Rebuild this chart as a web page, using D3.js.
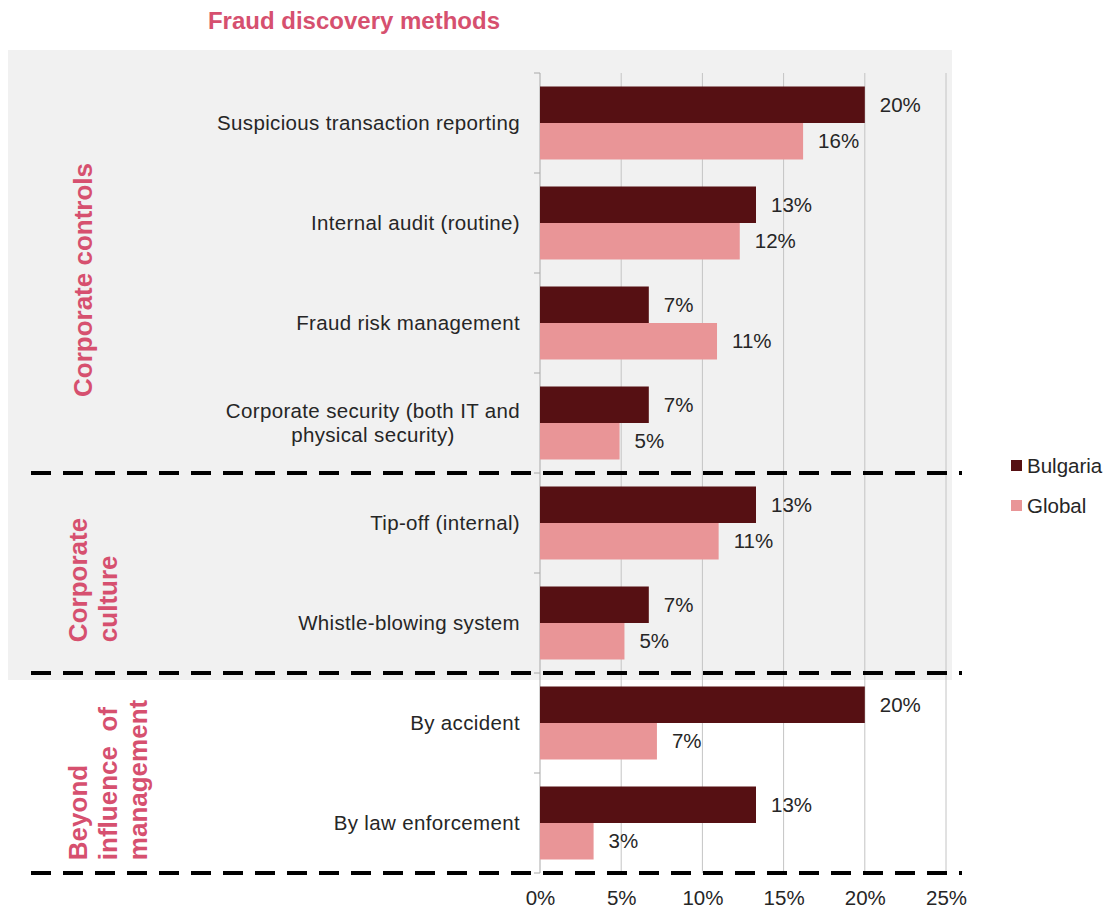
<!DOCTYPE html>
<html>
<head>
<meta charset="utf-8">
<script src="https://cdn.jsdelivr.net/npm/d3@7"></script>
<style>
  html, body { margin: 0; padding: 0; background: #ffffff; }
  svg { display: block; font-family: "Liberation Sans", Arial, sans-serif; }
</style>
</head>
<body>
<svg id="chart" width="1106" height="908"></svg>
<script>
// Discovery methods (label lines), share of cases per series (%)
const categories = [
  ["Suspicious transaction reporting"],
  ["Internal audit (routine)"],
  ["Fraud risk management"],
  ["Corporate security (both IT and", "physical security)"],
  ["Tip-off (internal)"],
  ["Whistle-blowing system"],
  ["By accident"],
  ["By law enforcement"]
];
const bulgaria = [20, 13.3, 6.7, 6.7, 13.3, 6.7, 20, 13.3];
const global = [16.2, 12.3, 10.9, 4.9, 11.0, 5.2, 7.2, 3.3];
const seriesNames = ["Bulgaria", "Global"];
const xTicks = [0, 5, 10, 15, 20, 25];

// Category groups: label lines and the index range of methods they cover
const groupLabels = [["Corporate controls"], ["Corporate", "culture"], ["Beyond", "influence  of", "management"]];
const groupFirst = [0, 4, 6];
const groupLast = [3, 5, 7];

const titleText = "Fraud discovery methods";

const colors = { Bulgaria: "#561013", Global: "#e99597" };
const accent = "#d6506f";
const textColor = "#262626";

const svg = d3.select("#chart");

const plot = { left: 540, right: 946, top: 73, bottom: 873 };

const x = d3.scaleLinear().domain([0, 25]).range([plot.left, plot.right]);
const keys = categories.map((c, i) => i);
const y = d3.scaleBand().domain(keys).range([plot.top, plot.bottom])
  .paddingInner(0.27).paddingOuter(0.135);
const ySeries = d3.scaleBand().domain(seriesNames).range([0, y.bandwidth()]);
const boundary = i => plot.top + (i + 1) * y.step();

// Shaded panel behind the first two groups
svg.append("rect")
  .attr("x", 8).attr("y", 50)
  .attr("width", 944)
  .attr("height", boundary(groupLast[1]) + 7 - 50)
  .attr("fill", "#f1f1f1");

// Vertical gridlines
svg.append("g").selectAll("line").data(xTicks.filter(t => t > 0)).join("line")
  .attr("x1", d => x(d)).attr("x2", d => x(d))
  .attr("y1", plot.top).attr("y2", plot.bottom)
  .attr("stroke", "#c4c4c4").attr("stroke-width", 1);

// Category axis line with ticks at band boundaries
svg.append("line")
  .attr("x1", x(0)).attr("x2", x(0))
  .attr("y1", plot.top).attr("y2", plot.bottom)
  .attr("stroke", "#a9a9a9").attr("stroke-width", 1);
svg.append("g").selectAll("line").data(d3.range(-1, categories.length)).join("line")
  .attr("x1", x(0) - 6).attr("x2", x(0))
  .attr("y1", d => boundary(d)).attr("y2", d => boundary(d))
  .attr("stroke", "#a9a9a9").attr("stroke-width", 1);

// Bars
const rows = keys.map(i => ({ i, Bulgaria: bulgaria[i], Global: global[i] }));
const barG = svg.append("g").selectAll("g").data(rows).join("g")
  .attr("transform", d => `translate(0,${y(d.i)})`);
barG.selectAll("rect").data(d => seriesNames.map(s => ({ s, v: d[s] }))).join("rect")
  .attr("x", x(0))
  .attr("y", d => ySeries(d.s))
  .attr("width", d => x(d.v) - x(0))
  .attr("height", ySeries.bandwidth())
  .attr("fill", d => colors[d.s]);

// Value labels
const fmt = v => d3.format(".0f")(v) + "%";
barG.selectAll("text").data(d => seriesNames.map(s => ({ s, v: d[s] }))).join("text")
  .attr("x", d => x(d.v) + 15)
  .attr("y", d => ySeries(d.s) + ySeries.bandwidth() / 2)
  .attr("dy", "0.35em")
  .attr("font-size", "20.5px")
  .attr("fill", textColor)
  .text(d => fmt(d.v));

// Category labels (multi-line labels are centred within a right-aligned block)
const catG = svg.append("g");
categories.forEach((lines, i) => {
  const g = catG.append("g");
  const cy = y(i) + y.bandwidth() / 2;
  const lh = 23.5;
  const ts = lines.map((ln, k) => g.append("text")
    .attr("y", cy + (k - (lines.length - 1) / 2) * lh)
    .attr("dy", "0.35em")
    .attr("font-size", "20.5px")
    .attr("letter-spacing", "0.35px")
    .attr("fill", textColor)
    .text(ln));
  const w = d3.max(ts, t => t.node().getComputedTextLength());
  ts.forEach(t => t.attr("text-anchor", "middle").attr("x", 520 - w / 2));
});

// Dashed separators under each group
svg.append("g").selectAll("line").data(groupLast).join("line")
  .attr("x1", 31).attr("x2", 962)
  .attr("y1", d => boundary(d)).attr("y2", d => boundary(d))
  .attr("stroke", "#000").attr("stroke-width", 4)
  .attr("stroke-dasharray", "20 12");

// Value axis
const xAxis = d3.axisBottom(x).tickValues(xTicks).tickSize(0).tickPadding(17)
  .tickFormat(d => d + "%");
const ax = svg.append("g").attr("transform", `translate(0,${plot.bottom})`).call(xAxis);
ax.select(".domain").remove();
ax.selectAll("text").attr("font-size", "20.5px").attr("fill", textColor)
  .attr("font-family", "'Liberation Sans', Arial, sans-serif");

// Group labels, rotated, lines start-aligned
groupLabels.forEach((lines, gi) => {
  const centre = (plot.top + groupFirst[gi] * y.step() + boundary(groupLast[gi])) / 2 + 7;
  const g = svg.append("g");
  const ts = lines.map((ln, k) => g.append("text")
    .attr("font-size", "26px")
    .attr("font-weight", "bold")
    .attr("fill", accent)
    .attr("xml:space", "preserve")
    .text(ln));
  const w = d3.max(ts, t => t.node().getComputedTextLength());
  const base = lines.length === 1 ? 92 : 87;
  ts.forEach((t, k) => t.attr("transform", `translate(${base + k * 30},${centre + w / 2}) rotate(-90)`));
});

// Title
svg.append("text")
  .attr("x", 354).attr("y", 29)
  .attr("text-anchor", "middle")
  .attr("font-size", "24px").attr("font-weight", "bold")
  .attr("fill", accent)
  .text(titleText);

// Legend
const leg = svg.append("g").attr("transform", "translate(1011,466)");
seriesNames.forEach((s, k) => {
  const r = leg.append("g").attr("transform", `translate(0,${k * 40})`);
  r.append("rect").attr("x", 0).attr("y", -6).attr("width", 11).attr("height", 11).attr("fill", colors[s]);
  r.append("text").attr("x", 16).attr("y", 0).attr("dy", "0.35em")
    .attr("font-size", "20.5px").attr("fill", textColor).text(s);
});
</script>
</body>
</html>
